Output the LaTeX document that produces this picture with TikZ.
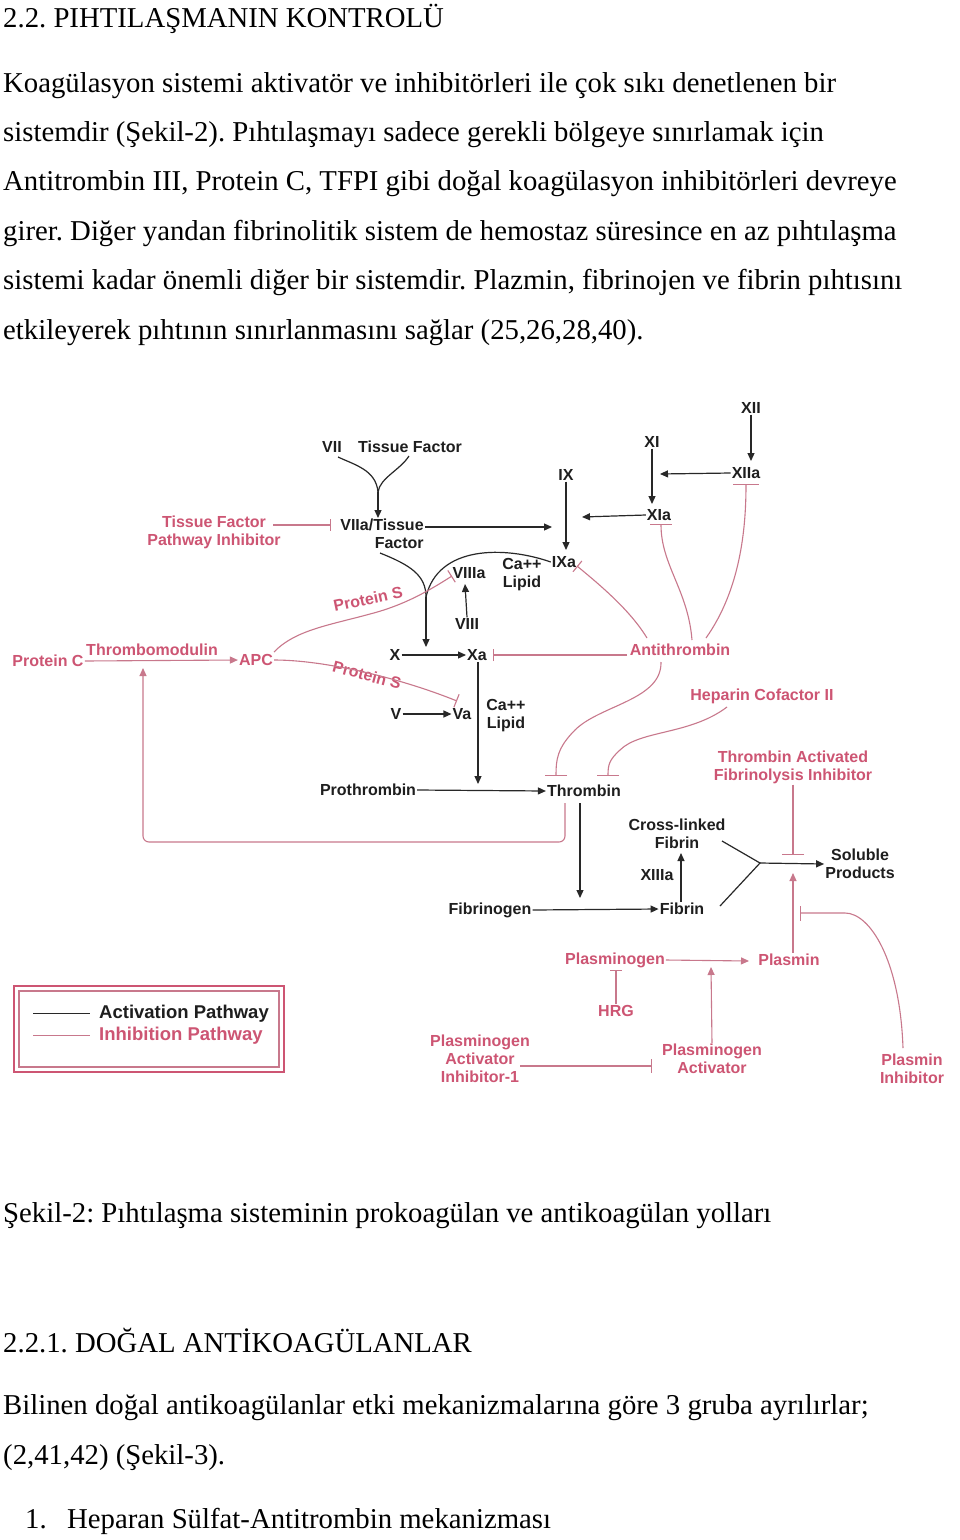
\documentclass[tikz,border=0pt]{standalone}
\usepackage{fontspec}
\setmainfont{Liberation Serif}
\newfontfamily\diagfont{Liberation Sans}
\usetikzlibrary{arrows.meta}
\definecolor{ink}{RGB}{30,30,30}
\definecolor{pinkt}{RGB}{205,85,115}
\definecolor{pinkl}{RGB}{200,120,140}
\definecolor{lineb}{RGB}{40,40,40}
\frenchspacing
\begin{document}
\begin{tikzpicture}[x=1pt,y=-1pt,
 body/.style={anchor=base west, inner sep=0pt, font=\fontsize{28.75}{30}\selectfont},
 lb/.style={inner sep=1pt, align=center, text=ink, font=\diagfont\bfseries\fontsize{16}{18}\selectfont},
 pl/.style={lb, text=pinkt},
 blk/.style={draw=lineb, line width=1.2pt},
 act/.style={blk, -{Triangle[length=8pt,width=7pt]}},
 pk/.style={draw=pinkl, line width=1.1pt},
 pact/.style={pk, -{Triangle[length=8pt,width=7pt]}},
 inh/.style={pk, -{Bar[width=#1, line width=1.1pt]}}, inh/.default=14pt
]
\path[use as bounding box, fill=white] (0,0) rectangle (960,1540);

% ---------- body text ----------
\node[body] (t0) at (3,27) {2.2. PIHTILAŞMANIN KONTROLÜ};
\node[body] (t1) at (3,92) {Koagülasyon sistemi aktivatör ve inhibitörleri ile çok sıkı denetlenen bir};
\node[body] (t2) at (3,141) {sistemdir (Şekil-2). Pıhtılaşmayı sadece gerekli bölgeye sınırlamak için};
\node[body] (t3) at (3,190) {Antitrombin III, Protein C, TFPI gibi doğal koagülasyon inhibitörleri devreye};
\node[body] (t4) at (3,240) {girer. Diğer yandan fibrinolitik sistem de hemostaz süresince en az pıhtılaşma};
\node[body] (t5) at (3,289) {sistemi kadar önemli diğer bir sistemdir. Plazmin, fibrinojen ve fibrin pıhtısını};
\node[body] (t6) at (3,339) {etkileyerek pıhtının sınırlanmasını sağlar (25,26,28,40).};
\node[body] (t7) at (3,1222) {Şekil-2: Pıhtılaşma sisteminin prokoagülan ve antikoagülan yolları};
\node[body] (t8) at (3,1352) {2.2.1. DOĞAL ANTİKOAGÜLANLAR};
\node[body] (t9) at (3,1414) {Bilinen doğal antikoagülanlar etki mekanizmalarına göre 3 gruba ayrılırlar;};
\node[body] (t10) at (3,1464) {(2,41,42) (Şekil-3).};
\node[body] (t11) at (25,1528) {1.};
\node[body] (t12) at (67,1528) {Heparan Sülfat-Antitrombin mekanizması};

% ---------- black nodes ----------
\node[lb] (XII) at (751,408) {XII};
\node[lb] (XI) at (652,442) {XI};
\node[lb] (XIIa) at (746,473) {XIIa};
\node[lb] (IX) at (566,475) {IX};
\node[lb] (XIa) at (659,515) {XIa};
\node[lb] (VII) at (332,447) {VII};
\node[lb] (TF) at (410,447) {Tissue Factor};
\node[lb, align=right] (VIIaTF) at (382,534) {VIIa/Tissue\\Factor};
\node[lb] (IXa) at (564,562) {IXa};
\node[lb] (CL1) at (522,575) {Ca++\\Lipid};
\node[lb] (VIIIa) at (469,573) {VIIIa};
\node[lb] (VIII) at (467,624) {VIII};
\node[lb] (X) at (395,655) {X};
\node[lb] (Xa) at (477,655) {Xa};
\node[lb] (V) at (396,714) {V};
\node[lb] (Va) at (462,714) {Va};
\node[lb] (CL2) at (506,716) {Ca++\\Lipid};
\node[lb] (Pro) at (368,790) {Prothrombin};
\node[lb] (Thr) at (584,791) {Thrombin};
\node[lb] (CLF) at (677,834) {Cross-linked\\Fibrin};
\node[lb] (XIIIa) at (657,875) {XIIIa};
\node[lb] (Fbg) at (490,910) {Fibrinogen};
\node[lb] (Fib) at (682,909) {Fibrin};
\node[lb] (Sol) at (860,864) {Soluble\\Products};

% ---------- pink nodes ----------
\node[pl] (TFPI) at (214,532) {Tissue Factor\\Pathway Inhibitor};
\node[pl] (PC) at (48,661) {Protein C};
\node[pl] (TM) at (152,650) {Thrombomodulin};
\node[pl] (APC) at (256,660) {APC};
\node[pl, rotate=12] (PS1) at (368,599) {Protein S};
\node[pl, rotate=-15] (PS2) at (367,675) {Protein S};
\node[pl] (AT) at (680,650) {Antithrombin};
\node[pl] (HC) at (762,696) {Heparin Cofactor II};
\node[pl] (TAFI) at (793,767) {Thrombin Activated\\Fibrinolysis Inhibitor};
\node[pl] (Plg) at (615,960) {Plasminogen};
\node[pl] (Pls) at (789,960) {Plasmin};
\node[pl] (HRG) at (616,1011) {HRG};
\node[pl] (PAI) at (480,1059) {Plasminogen\\Activator\\Inhibitor-1};
\node[pl] (PA) at (712,1059) {Plasminogen\\Activator};
\node[pl] (PI) at (912,1069) {Plasmin\\Inhibitor};

% ---------- coordinates ----------
\coordinate (m1) at (378,492);
\coordinate (m2) at (426,597);
\coordinate (m3) at (760,863);
\coordinate (onXI) at (660,474);
\coordinate (onIX) at (582,517);
\coordinate (onIXa) at (552,527);
\coordinate (onX) at (426,647);
\coordinate (onPT) at (478,784);
\coordinate (onFF) at (580,898);
\coordinate (onSol) at (793,873);
\coordinate (onPP) at (711,967);

% ---------- black connectors ----------
\draw[act] (XII.south) -- (751,461);
\draw[act] (XIIa.west) -- (onXI);
\draw[act] (XI.south) -- (652,504);
\draw[act] (XIa.west) -- (onIX);
\draw[act] (IX.south) -- (566,550);
\draw[act] ([yshift=7pt]VIIaTF.east) -- (onIXa);
\draw[blk] (338,457) .. controls (355,465) and (376,470) .. (m1);
\draw[blk] (409,456) .. controls (400,470) and (380,478) .. (m1);
\draw[act] (m1) -- (378,518);
\draw[blk] (380,553) .. controls (410,565) and (426,575) .. (m2);
\draw[blk] (IXa.west) .. controls (505,546) and (438,545) .. (m2);
\draw[act] (m2) -- (onX);
\draw[act] (VIII.north) -- (465,584);
\draw[act] (X.east) -- (Xa.west);
\draw[act] (V.east) -- (Va.west);
\draw[act] (Xa.south) ++(1,0) -- (onPT);
\draw[act] (Pro.east) -- (Thr.west);
\draw[act] (580,803) -- (onFF);
\draw[act] (Fbg.east) -- (Fib.west);
\draw[act] (Fib.north) ++(-1,0) -- (681,853);
\draw[blk] (722,841) -- (m3) -- (720,906);
\draw[act] (m3) -- (Sol.west);

% ---------- pink connectors ----------
\draw[inh=12pt] (273,525) -- (331,525);
\draw[pact] (PC.east) -- (APC.west);
\draw[pact, rounded corners=6pt] (565,803) -- (565,842) -- (143,842) -- (143,668);
\draw[inh] (274,652) .. controls (295,630) and (330,625) .. (370,614) .. controls (405,605) and (430,590) .. (452,576);
\draw[inh] (APC.east) .. controls (325,660) and (400,678) .. (457,701);
\draw[inh=12pt] (627,655) -- (493,655);
\draw[inh] (647,638) .. controls (630,610) and (600,585) .. (577,566);
\draw[inh=22pt] (692,640) .. controls (688,590) and (661,565) .. (661,524);
\draw[inh=26pt] (706,638) .. controls (740,590) and (746,530) .. (746,484);
\draw[inh=22pt] (661,662) .. controls (662,700) and (600,705) .. (575,730) .. controls (557,748) and (556,760) .. (556,776);
\draw[inh=22pt] (727,707) .. controls (690,735) and (640,730) .. (620,750) .. controls (609,760) and (608,765) .. (608,776);
\draw[inh=22pt] (TAFI.south) -- (793,855);
\draw[pact] (Pls.north) ++(4,0) -- (onSol);
\draw[inh=15pt] (903,1048) .. controls (900,960) and (870,913) .. (845,913) -- (800,913);
\draw[pact] (Plg.east) -- (749,961);
\draw[pact] (PA.north) -- (onPP);
\draw[inh=12pt] (HRG.north) -- (616,970);
\draw[inh=14pt] (520,1066) -- (652,1066);

% ---------- legend ----------
\draw[draw=pinkt, line width=2.2pt] (14,986) rectangle (284,1072);
\draw[draw=pinkl, line width=1.2pt] (19,991) rectangle (279,1067);
\draw[blk, line width=1pt] (33,1013) -- (90,1013);
\draw[pk, line width=1pt] (33,1035) -- (90,1035);
\node[lb, anchor=west, font=\diagfont\bfseries\fontsize{18.5}{20}\selectfont] (LA) at (98,1014) {Activation Pathway};
\node[pl, anchor=west, font=\diagfont\bfseries\fontsize{18.5}{20}\selectfont] (LI) at (98,1036) {Inhibition Pathway};
\end{tikzpicture}
\end{document}
